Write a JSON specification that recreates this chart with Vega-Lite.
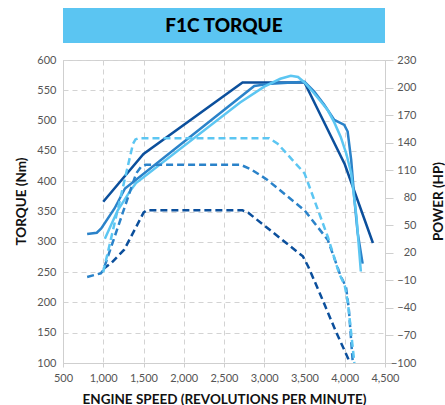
{
  "$schema": "https://vega.github.io/schema/vega-lite/v6.json",
  "padding": {"left": 13, "top": 8, "right": 0, "bottom": 0},
  "background": "white",
  "bounds": "flush",
  "spacing": 17,
  "config": {
    "view": {"stroke": "#d0d0d0"},
    "font": "Lato",
    "axis": {
      "labelFont": "Lato", "titleFont": "Lato", "labelColor": "#555", "labelFontSize": 11,
      "titleColor": "#111", "titleFontSize": 13.5, "titleFontWeight": "bold",
      "domainColor": "#cfcfcf", "tickColor": "#cfcfcf", "gridColor": "#d3d3d3", "gridDash": [5, 4]
    }
  },
  "datasets": {
    "curves": [
      {"s": "1", "k": "T", "rpm": 1000, "v": 366},
      {"s": "1", "k": "T", "rpm": 1500, "v": 445},
      {"s": "1", "k": "T", "rpm": 2730, "v": 563},
      {"s": "1", "k": "T", "rpm": 3500, "v": 563},
      {"s": "1", "k": "T", "rpm": 4000, "v": 428},
      {"s": "1", "k": "T", "rpm": 4350, "v": 298},

      {"s": "2", "k": "T", "rpm": 800, "v": 313},
      {"s": "2", "k": "T", "rpm": 920, "v": 315},
      {"s": "2", "k": "T", "rpm": 975, "v": 322},
      {"s": "2", "k": "T", "rpm": 1140, "v": 355},
      {"s": "2", "k": "T", "rpm": 1270, "v": 388},
      {"s": "2", "k": "T", "rpm": 2876, "v": 557},
      {"s": "2", "k": "T", "rpm": 3080, "v": 561},
      {"s": "2", "k": "T", "rpm": 3500, "v": 564},
      {"s": "2", "k": "T", "rpm": 3621, "v": 548},
      {"s": "2", "k": "T", "rpm": 3745, "v": 526},
      {"s": "2", "k": "T", "rpm": 3870, "v": 501},
      {"s": "2", "k": "T", "rpm": 3932, "v": 497},
      {"s": "2", "k": "T", "rpm": 3994, "v": 493},
      {"s": "2", "k": "T", "rpm": 4036, "v": 482},
      {"s": "2", "k": "T", "rpm": 4080, "v": 435},
      {"s": "2", "k": "T", "rpm": 4120, "v": 370},
      {"s": "2", "k": "T", "rpm": 4160, "v": 315},
      {"s": "2", "k": "T", "rpm": 4222, "v": 264},

      {"s": "3", "k": "T", "rpm": 1020, "v": 305},
      {"s": "3", "k": "T", "rpm": 1180, "v": 352},
      {"s": "3", "k": "T", "rpm": 1345, "v": 386},
      {"s": "3", "k": "T", "rpm": 1407, "v": 397},
      {"s": "3", "k": "T", "rpm": 2700, "v": 530},
      {"s": "3", "k": "T", "rpm": 3000, "v": 556},
      {"s": "3", "k": "T", "rpm": 3200, "v": 569},
      {"s": "3", "k": "T", "rpm": 3330, "v": 574},
      {"s": "3", "k": "T", "rpm": 3420, "v": 572},
      {"s": "3", "k": "T", "rpm": 3500, "v": 563},
      {"s": "3", "k": "T", "rpm": 3600, "v": 548},
      {"s": "3", "k": "T", "rpm": 3700, "v": 532},
      {"s": "3", "k": "T", "rpm": 3790, "v": 517},
      {"s": "3", "k": "T", "rpm": 3870, "v": 497},
      {"s": "3", "k": "T", "rpm": 3950, "v": 473},
      {"s": "3", "k": "T", "rpm": 4020, "v": 445},
      {"s": "3", "k": "T", "rpm": 4080, "v": 413},
      {"s": "3", "k": "T", "rpm": 4145, "v": 342},
      {"s": "3", "k": "T", "rpm": 4200, "v": 251},

      {"s": "1", "k": "P", "rpm": 1000, "v": 2.3},
      {"s": "1", "k": "P", "rpm": 1100, "v": 8.9},
      {"s": "1", "k": "P", "rpm": 1260, "v": 23.4},
      {"s": "1", "k": "P", "rpm": 1430, "v": 51.8},
      {"s": "1", "k": "P", "rpm": 1500, "v": 63.7},
      {"s": "1", "k": "P", "rpm": 1540, "v": 66.3},
      {"s": "1", "k": "P", "rpm": 2730, "v": 66.3},
      {"s": "1", "k": "P", "rpm": 2800, "v": 63.7},
      {"s": "1", "k": "P", "rpm": 3000, "v": 49.8},
      {"s": "1", "k": "P", "rpm": 3480, "v": 16.2},
      {"s": "1", "k": "P", "rpm": 3550, "v": 4.3},
      {"s": "1", "k": "P", "rpm": 3700, "v": -26.1},
      {"s": "1", "k": "P", "rpm": 3890, "v": -65.7},
      {"s": "1", "k": "P", "rpm": 4040, "v": -94.7},
      {"s": "1", "k": "P", "rpm": 4060, "v": -99.3},

      {"s": "2", "k": "P", "rpm": 800, "v": -6.3},
      {"s": "2", "k": "P", "rpm": 970, "v": -2.3},
      {"s": "2", "k": "P", "rpm": 1000, "v": 1},
      {"s": "2", "k": "P", "rpm": 1345, "v": 90.1},
      {"s": "2", "k": "P", "rpm": 1410, "v": 106.6},
      {"s": "2", "k": "P", "rpm": 1470, "v": 113.8},
      {"s": "2", "k": "P", "rpm": 1530, "v": 115.8},
      {"s": "2", "k": "P", "rpm": 2710, "v": 115.8},
      {"s": "2", "k": "P", "rpm": 2830, "v": 111.2},
      {"s": "2", "k": "P", "rpm": 2950, "v": 104.6},
      {"s": "2", "k": "P", "rpm": 3040, "v": 99.3},
      {"s": "2", "k": "P", "rpm": 3500, "v": 66.3},
      {"s": "2", "k": "P", "rpm": 3790, "v": 34},
      {"s": "2", "k": "P", "rpm": 3950, "v": -5.6},
      {"s": "2", "k": "P", "rpm": 4015, "v": -16.8},
      {"s": "2", "k": "P", "rpm": 4050, "v": -40.6},
      {"s": "2", "k": "P", "rpm": 4100, "v": -100},

      {"s": "3", "k": "P", "rpm": 1000, "v": -1},
      {"s": "3", "k": "P", "rpm": 1370, "v": 138.9},
      {"s": "3", "k": "P", "rpm": 1400, "v": 143.5},
      {"s": "3", "k": "P", "rpm": 1440, "v": 144.9},
      {"s": "3", "k": "P", "rpm": 3060, "v": 144.9},
      {"s": "3", "k": "P", "rpm": 3166, "v": 138.9},
      {"s": "3", "k": "P", "rpm": 3500, "v": 106.6},
      {"s": "3", "k": "P", "rpm": 3790, "v": 37.3},
      {"s": "3", "k": "P", "rpm": 3930, "v": -2.3},
      {"s": "3", "k": "P", "rpm": 4000, "v": -15.5},
      {"s": "3", "k": "P", "rpm": 4040, "v": -34.7},
      {"s": "3", "k": "P", "rpm": 4080, "v": -67.7},
      {"s": "3", "k": "P", "rpm": 4120, "v": -100}
    ]
  },
  "vconcat": [
    {
      "width": 322,
      "height": 35,
      "view": {"fill": "#5bc5f2", "stroke": null},
      "data": {"values": [{"t": "F1C TORQUE"}]},
      "mark": {"type": "text", "font": "Lato", "fontWeight": 900, "fontSize": 19, "color": "#000", "baseline": "middle", "align": "center"},
      "encoding": {"text": {"field": "t", "type": "nominal"}}
    },
    {
      "width": 322,
      "height": 303,
      "data": {"name": "curves"},
      "encoding": {
        "x": {
          "field": "rpm", "type": "quantitative",
          "scale": {"domain": [500, 4500], "nice": false, "zero": false},
          "axis": {
            "values": [500, 1000, 1500, 2000, 2500, 3000, 3500, 4000, 4500],
            "format": ",.0f", "labelOverlap": false, "labelFlush": false, "grid": true, "tickSize": 4, "labelPadding": 5,
            "title": "ENGINE SPEED (REVOLUTIONS PER MINUTE)", "titlePadding": 9
          }
        },
        "color": {
          "field": "s", "type": "nominal",
          "scale": {"domain": ["1", "2", "3"], "range": ["#0b4f9c", "#2a82c9", "#5cc6f2"]},
          "legend": null
        }
      },
      "layer": [
        {
          "transform": [{"filter": "datum.k == 'T'"}],
          "mark": {"type": "line", "strokeWidth": 2.5, "clip": true},
          "encoding": {
            "y": {
              "field": "v", "type": "quantitative",
              "scale": {"domain": [100, 600], "nice": false, "zero": false},
              "axis": {
                "values": [100, 150, 200, 250, 300, 350, 400, 450, 500, 550, 600],
                "grid": true, "ticks": false, "labelPadding": 7, "labelOverlap": false, "labelFlush": false,
                "title": "TORQUE (Nm)", "titleAngle": 270, "titleX": -42, "titleY": 141,
                "titleBaseline": "middle", "titleAlign": "center"
              }
            }
          }
        },
        {
          "transform": [{"filter": "datum.k == 'P'"}],
          "mark": {"type": "line", "strokeWidth": 2.5, "strokeDash": [7, 4], "clip": true},
          "encoding": {
            "y": {
              "field": "v", "type": "quantitative",
              "scale": {"domain": [-100, 230], "nice": false, "zero": false},
              "axis": {
                "orient": "right",
                "values": [-100, -70, -40, -10, 20, 50, 80, 110, 140, 170, 200, 230],
                "grid": false, "tickSize": 8, "labelAlign": "right", "labelPadding": 23, "labelOverlap": false, "labelFlush": false,
                "title": "POWER (HP)", "titleAngle": 270, "titleX": 53, "titleY": 141,
                "titleBaseline": "middle", "titleAlign": "center"
              }
            }
          }
        }
      ],
      "resolve": {"scale": {"y": "independent"}}
    }
  ]
}
